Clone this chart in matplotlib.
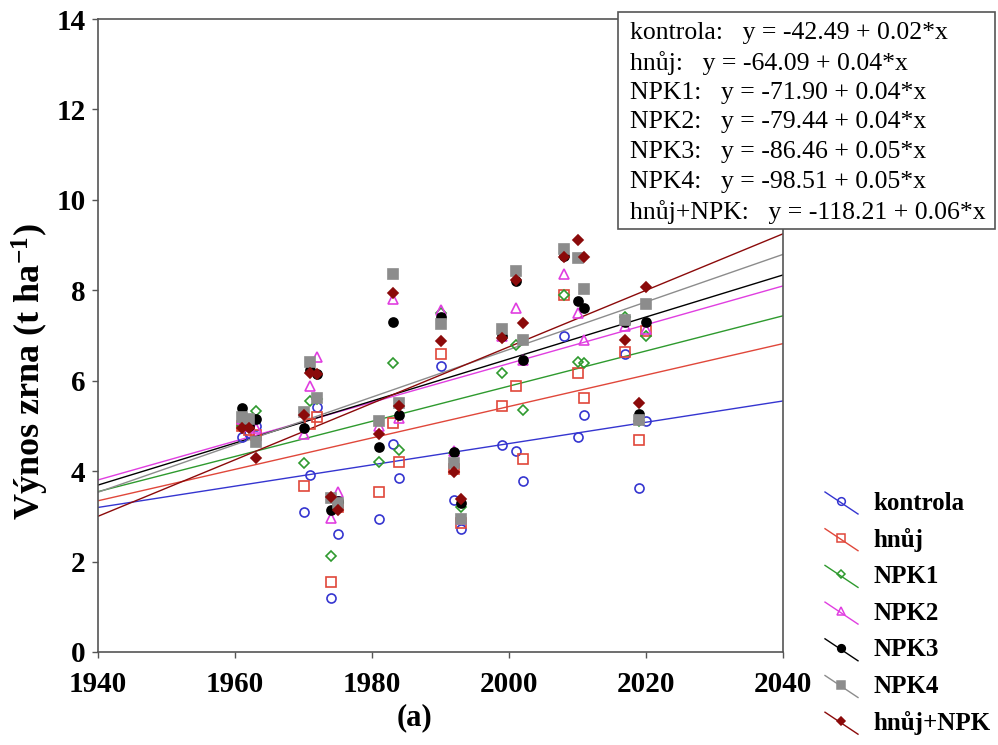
import numpy as np
import matplotlib.pyplot as plt
from matplotlib.lines import Line2D
from matplotlib.patches import Rectangle

plt.rcParams['font.family'] = ['Liberation Serif', 'DejaVu Serif']
plt.rcParams['mathtext.fontset'] = 'custom'
plt.rcParams['mathtext.rm'] = 'Liberation Serif:bold'
plt.rcParams['mathtext.it'] = 'Liberation Serif:bold'
plt.rcParams['mathtext.bf'] = 'Liberation Serif:bold'

# grain yield per treatment and year (t/ha)
years = [1961, 1962, 1963, 1970, 1971, 1972, 1974, 1975, 1981, 1983, 1984, 1990,
         1992, 1993, 1999, 2001, 2002, 2008, 2010, 2011, 2017, 2019, 2020]
kontrola = [4.75, 4.85, 5.00, 3.10, 3.92, 5.42, 1.19, 2.61, 2.95, 4.60, 3.85, 6.33,
            3.36, 2.73, 4.58, 4.45, 3.78, 6.98, 4.76, 5.25, 6.60, 3.62, 5.10]
hnuj = [5.00, 4.90, 4.80, 3.68, 5.05, 5.20, 1.55, 3.20, 3.53, 5.07, 4.20, 6.60,
        4.05, 2.85, 5.45, 5.88, 4.27, 7.90, 6.17, 5.62, 6.63, 4.68, 7.10]
npk1 = [5.00, 5.05, 5.33, 4.17, 5.55, 5.60, 2.12, 3.30, 4.20, 6.40, 4.47, 7.50,
        4.40, 3.20, 6.17, 6.80, 5.35, 7.90, 6.42, 6.40, 7.40, 5.10, 6.98]
npk2 = [5.15, 5.00, 4.95, 4.82, 5.88, 6.53, 2.96, 3.54, 5.00, 7.80, 5.18, 7.57,
        4.45, 2.95, 7.00, 7.60, 6.45, 8.35, 7.50, 6.90, 7.20, 5.20, 7.15]
npk3 = [5.40, 5.00, 5.15, 4.96, 6.24, 6.15, 3.14, 3.34, 4.53, 7.30, 5.24, 7.42,
        4.42, 3.30, 7.00, 8.20, 6.46, 8.75, 7.77, 7.60, 7.30, 5.27, 7.30]
npk4 = [5.20, 5.15, 4.65, 5.30, 6.42, 5.62, 3.40, 3.30, 5.10, 8.35, 5.50, 7.25,
        4.18, 2.95, 7.15, 8.42, 6.90, 8.92, 8.72, 8.03, 7.35, 5.13, 7.70]
hnuj_npk = [4.95, 4.95, 4.29, 5.25, 6.17, 6.15, 3.43, 3.14, 4.82, 7.95, 5.45, 6.88,
            3.97, 3.38, 6.95, 8.22, 7.28, 8.74, 9.12, 8.74, 6.90, 5.50, 8.08]

names = ['kontrola', 'hnůj', 'NPK1', 'NPK2', 'NPK3', 'NPK4', 'hnůj+NPK']
series = [kontrola, hnuj, npk1, npk2, npk3, npk4, hnuj_npk]

# linear fits y = a + b*x
intercepts = [-42.49, -64.09, -71.90, -79.44, -86.46, -98.51, -118.21]
slopes = [0.02355, 0.03476, 0.03889, 0.04291, 0.04647, 0.0526, 0.06248]
slope_text = ['0.02', '0.04', '0.04', '0.04', '0.05', '0.05', '0.06']

colors = ['#3535d0', '#e0473a', '#2e9a2e', '#e03ee0', '#000000', '#8c8c8c', '#8b0a0a']
markers = ['o', 's', 'D', '^', 'o', 's', 'D']
filled = [False, False, False, False, True, True, True]
msizes = [6.5, 6.5, 5, 6.5, 6.5, 6.5, 5]

W, H = 998, 745
fig = plt.figure(figsize=(W / 100, H / 100), dpi=100)


def fx(px):
    return px / W


def fy(py):
    return 1 - py / H


ax = fig.add_axes([fx(98), fy(652), fx(783 - 98), (652 - 19) / H])

xfit = np.array([1940, 2040])
for a, b, c in zip(intercepts, slopes, colors):
    ax.plot(xfit, a + b * xfit, color=c, lw=1.0, zorder=2)

for vals, c, m, f, ms in zip(series, colors, markers, filled, msizes):
    ax.plot(years, vals, ls='none', marker=m, ms=ms, mew=1.2,
            mec=c, mfc=c if f else 'none', zorder=3)

ax.set_xlim(1940, 2040)
ax.set_ylim(0, 14)
ax.set_xticks(range(1940, 2041, 20))
ax.set_yticks(range(0, 15, 2))
ax.tick_params(direction='out', length=4, width=1, color='#555555', labelsize=21)
ax.tick_params(axis='x', pad=10)
ax.tick_params(axis='y', pad=5)
for lab in ax.get_xticklabels() + ax.get_yticklabels():
    lab.set_fontweight('bold')
for sp in ax.spines.values():
    sp.set_color('#555555')
    sp.set_linewidth(1.2)

fig.text(fx(30), fy(372), 'Výnos zrna (t ha$^{-1}$)', fontsize=26, fontweight='bold',
         rotation=90, ha='center', va='center')
fig.text(fx(415), fy(718), '(a)', fontsize=22, fontweight='bold', ha='center', va='center')

# equation box
fig.add_artist(Rectangle((fx(618), fy(229)), fx(995 - 618), (229 - 12) / H,
                         transform=fig.transFigure, facecolor='white',
                         edgecolor='#555555', lw=1.2, zorder=5))
for i, (n, a, s) in enumerate(zip(names, intercepts, slope_text)):
    fig.text(fx(630), fy(33 + i * 29.8), f'{n}:   y = {a:.2f} + {s}*x',
             fontsize=18.5, va='center', ha='left', zorder=6)

# legend with slanted handles
for i, (n, c, m, f, ms) in enumerate(zip(names, colors, markers, filled, msizes)):
    yc = 503 + i * 36.7
    fig.add_artist(Line2D([fx(825), fx(858)], [fy(yc - 11), fy(yc + 11)],
                          transform=fig.transFigure, color=c, lw=1.0))
    fig.add_artist(Line2D([fx(841)], [fy(yc - 2)], transform=fig.transFigure,
                          ls='none', marker=m, ms=ms * 0.85, mew=1.1, mec=c,
                          mfc=c if f else 'none'))
    fig.text(fx(873), fy(yc), n, fontsize=18, fontweight='bold', va='center', ha='left')

fig.savefig('out.png', dpi=100)
